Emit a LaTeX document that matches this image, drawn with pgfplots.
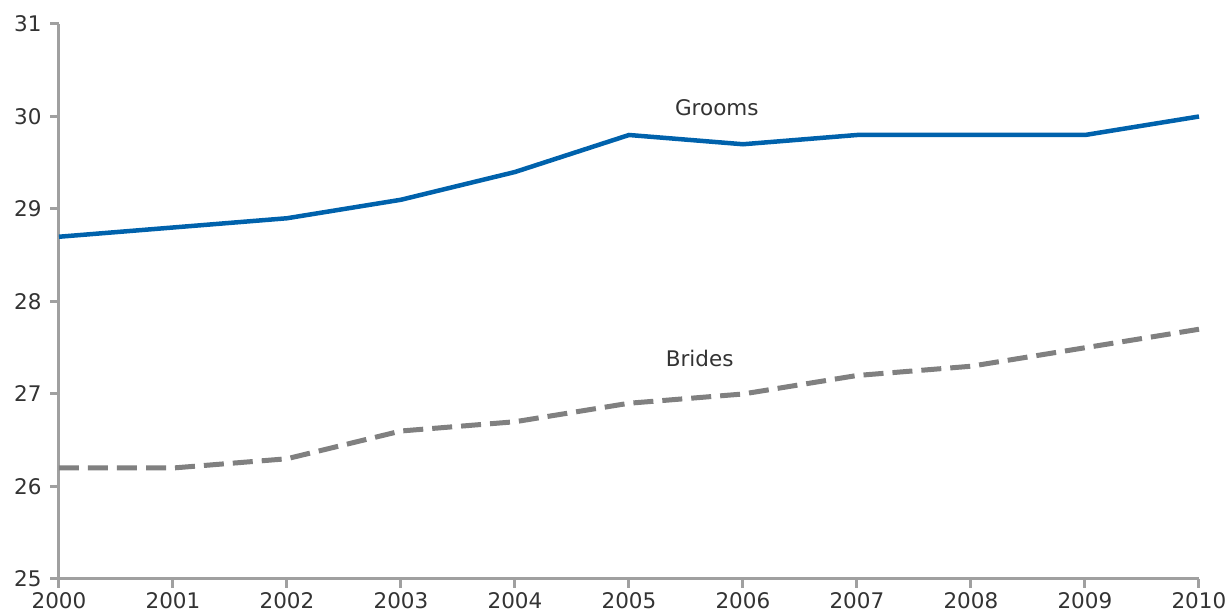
\documentclass[border=0pt]{standalone}
\usepackage{pgfplots}
\pgfplotsset{compat=1.18}
\usepackage{fontspec}
\setmainfont{DejaVu Sans}
\definecolor{groomblue}{HTML}{0062AC}
\definecolor{bridegray}{HTML}{808080}
\definecolor{axisgray}{HTML}{A0A0A0}
\definecolor{txt}{HTML}{333333}
\begin{document}
\begin{tikzpicture}
\begin{axis}[
  scale only axis, width=1140pt, height=555pt,
  xmin=2000, xmax=2010, ymin=25, ymax=31,
  xtick={2000,...,2010}, ytick={25,...,31},
  axis x line*=bottom, axis y line*=left,
  axis line style={axisgray, line width=3pt, -},
  tick style={axisgray, line width=3pt},
  tick align=outside, major tick length=9pt,
  font=\fontsize{21.5}{25}\selectfont,
  tick label style={txt},
  /pgf/number format/assume math mode=true,
  /pgf/number format/1000 sep={},
  xticklabel style={yshift=-1pt},
  yticklabel style={xshift=-5pt},
  clip=false,
]
\addplot[groomblue, line width=4.5pt] coordinates {
  (2000,28.7) (2001,28.8) (2002,28.9) (2003,29.1) (2004,29.4) (2005,29.8)
  (2006,29.7) (2007,29.8) (2008,29.8) (2009,29.8) (2010,30.0)};
\addplot[bridegray, line width=5pt, dash pattern=on 20pt off 9pt] coordinates {
  (2000,26.2) (2001,26.2) (2002,26.3) (2003,26.6) (2004,26.7) (2005,26.9)
  (2006,27.0) (2007,27.2) (2008,27.3) (2009,27.5) (2010,27.7)};
\node[txt] at (axis cs:2005.77,30.09) {Grooms};
\node[txt] at (axis cs:2005.62,27.38) {Brides};
\coordinate (bl) at (rel axis cs:0,0);
\coordinate (tr) at (rel axis cs:1,1);
\end{axis}
\pgfresetboundingbox
\path ([xshift=-59pt,yshift=-33pt]bl) rectangle ([xshift=28pt,yshift=24pt]tr);
\end{tikzpicture}
\end{document}
